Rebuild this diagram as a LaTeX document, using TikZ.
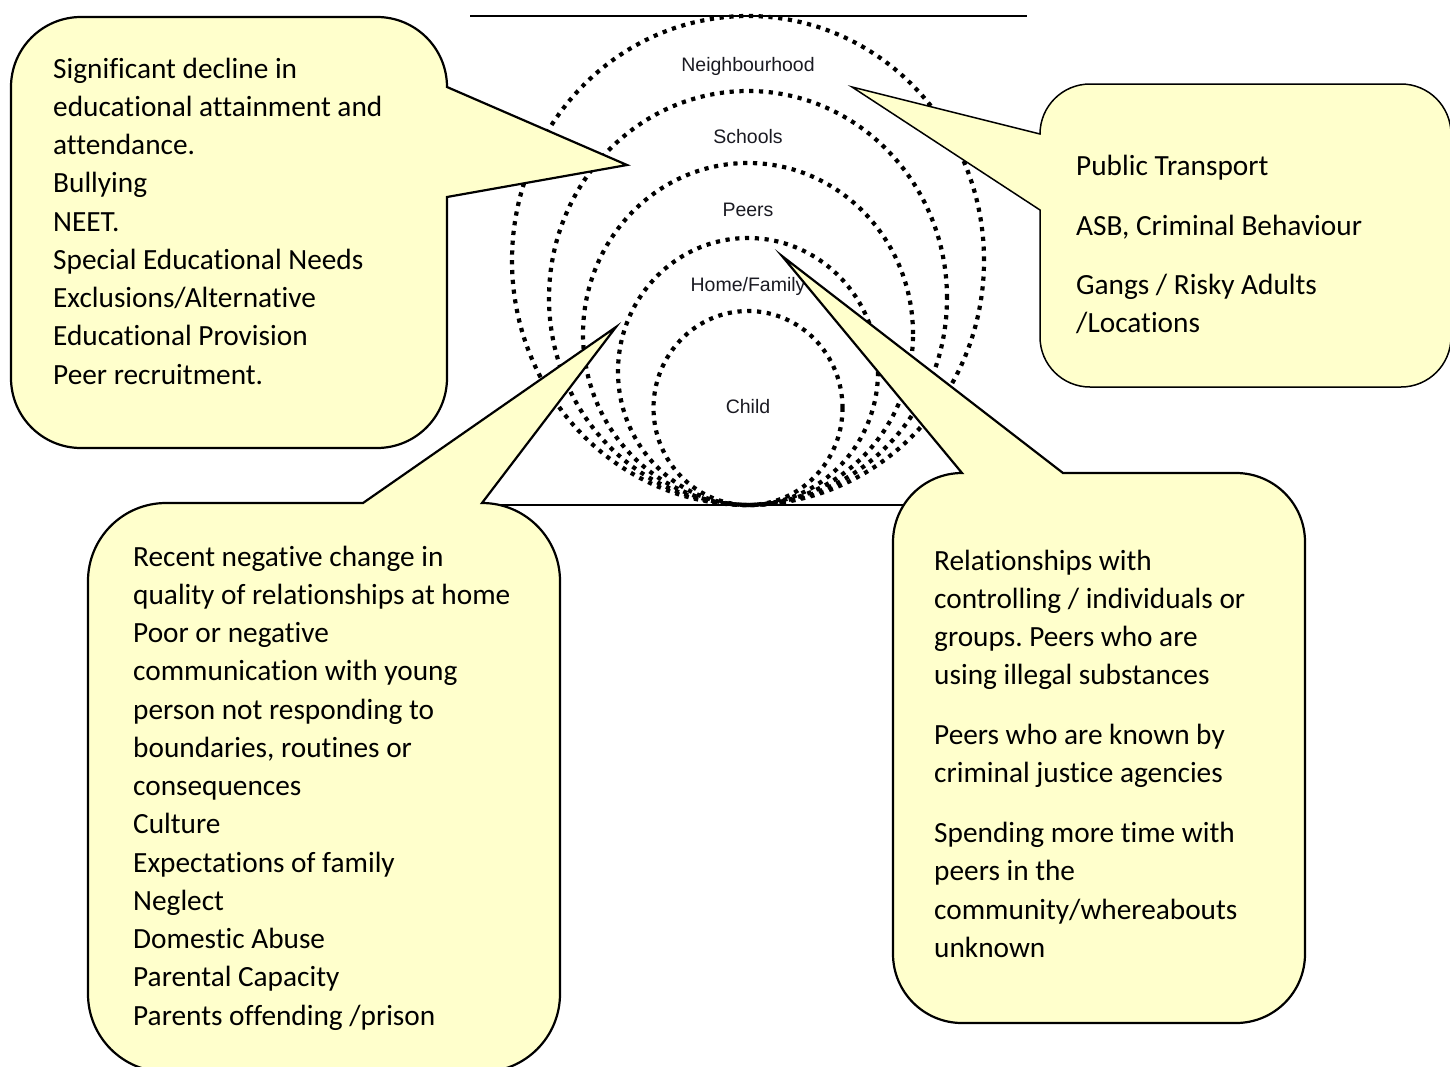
\documentclass[tikz,border=0pt]{standalone}
\usepackage{fontspec}
\setmainfont{Carlito}[Ligatures=NoCommon]
\newfontfamily\arialfont{Liberation Sans}
\definecolor{calloutfill}{HTML}{FFFFCC}
\definecolor{labelcol}{HTML}{1A1A22}
\frenchspacing
\begin{document}
\begin{tikzpicture}[x=1pt,y=1pt,
  ring/.style={line width=4.2pt, dash pattern=on 4.2pt off 5.6pt, black},
  callout/.style={draw=black, fill=calloutfill, line width=2.2pt, line join=miter},
  ringlabel/.style={font=\arialfont\fontsize{19.5}{23}\selectfont, text=labelcol, anchor=base, inner sep=0pt},
  bodytext/.style={font=\fontsize{29.3}{38.25}\selectfont, align=left, anchor=north west, inner sep=0pt}]

\useasboundingbox (0,0) rectangle (1450,-1066);

% horizontal rules
\draw[line width=2.5pt] (470,-16) -- (1027,-16);
\draw[line width=2pt] (470,-505) -- (1027,-505);

% nested dotted rings
\draw[ring] (748,-260.5) ellipse [x radius=236pt, y radius=244.5pt];
\draw[ring] (748,-298) ellipse [x radius=199pt, y radius=207pt];
\draw[ring] (748,-334) ellipse [x radius=165pt, y radius=171pt];
\draw[ring] (748,-371.5) ellipse [x radius=130pt, y radius=133.5pt];
\draw[ring] (748,-408) ellipse [x radius=94.5pt, y radius=97pt];

\node[ringlabel] (nb) at (748,-71) {Neighbourhood};
\node[ringlabel] (sc) at (748,-143) {Schools};
\node[ringlabel] (pe) at (748,-216) {Peers};
\node[ringlabel] (hf) at (748,-291) {Home/Family};
\node[ringlabel] (ch) at (748,-413) {Child};

% callouts
\draw[callout] (447,-197) -- (447,-378) arc[start angle=0,end angle=-90,radius=70pt]
  -- (81,-448) arc[start angle=-90,end angle=-180,radius=70pt]
  -- (11,-87) arc[start angle=180,end angle=90,radius=70pt]
  -- (377,-17) arc[start angle=90,end angle=0,radius=70pt]
  -- (627,-165) -- cycle;

\draw[callout, line width=1.5pt] (1040,-210) -- (1040,-337) arc[start angle=180,end angle=270,radius=50pt]
  -- (1401,-387) arc[start angle=270,end angle=360,radius=50pt]
  -- (1451,-134) arc[start angle=0,end angle=90,radius=50pt]
  -- (1090,-84) arc[start angle=90,end angle=180,radius=50pt]
  -- (852,-87) -- cycle;

\draw[callout] (482,-503) arc[start angle=90,end angle=0,radius=78pt]
  -- (560,-994) arc[start angle=0,end angle=-90,radius=78pt]
  -- (166,-1072) arc[start angle=-90,end angle=-180,radius=78pt]
  -- (88,-581) arc[start angle=180,end angle=90,radius=78pt]
  -- (363,-503) -- (616,-327) -- cycle;

\draw[callout] (1063,-473) -- (1236,-473) arc[start angle=90,end angle=0,radius=69pt]
  -- (1305,-954) arc[start angle=0,end angle=-90,radius=69pt]
  -- (962,-1023) arc[start angle=-90,end angle=-180,radius=69pt]
  -- (893,-542) arc[start angle=180,end angle=90,radius=69pt]
  -- (782,-256) -- cycle;

% callout texts
\node[bodytext] (tltext) at (53,-53) {\rule{0pt}{25pt}Significant decline in\\ educational attainment and\\ attendance.\\ Bullying\\ NEET.\\ Special Educational Needs\\ Exclusions/Alternative\\ Educational Provision\\ Peer recruitment.};

\node[bodytext] (trtext) at (1076,-150) {\rule{0pt}{25pt}Public Transport\\[21.75pt] ASB, Criminal Behaviour\\[20.75pt] Gangs / Risky Adults\\ /Locations};

\node[bodytext] (bltext) at (133,-541) {\rule{0pt}{25pt}Recent negative change in\\ quality of relationships at home\\ Poor or negative\\ communication with young\\ person not responding to\\ boundaries, routines or\\ consequences\\ Culture\\ Expectations of family\\ Neglect\\ Domestic Abuse\\ Parental Capacity\\ Parents offending /prison};

\node[bodytext] (brtext) at (934,-545) {\rule{0pt}{25pt}Relationships with\\ controlling / individuals or\\ groups. Peers who are\\ using illegal substances\\[21.5pt] Peers who are known by\\ criminal justice agencies\\[21.5pt] Spending more time with\\ peers in the\\ community/whereabouts\\ unknown};
\end{tikzpicture}
\end{document}
